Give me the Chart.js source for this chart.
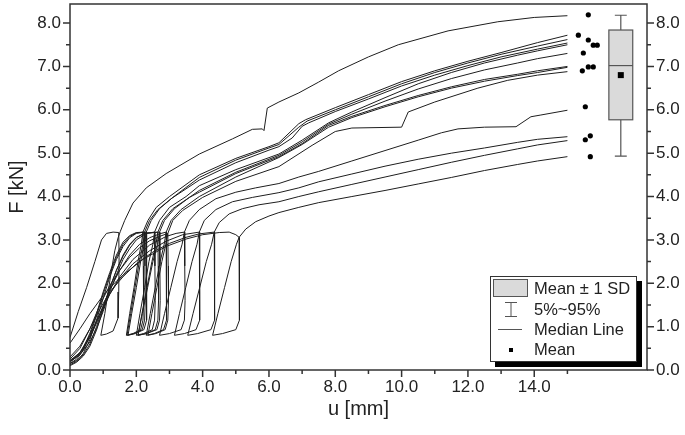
<!DOCTYPE html>
<html>
<head>
<meta charset="utf-8">
<script src="https://cdn.jsdelivr.net/npm/chart.js@4.4.1/dist/chart.umd.min.js"></script>
<style>
  html, body { margin: 0; padding: 0; background: #fff; }
  #chart { display: block; }
</style>
</head>
<body>
<canvas id="chart" width="685" height="435"></canvas>
<script>
// tick positions
const xTicks = [0, 2, 4, 6, 8, 10, 12, 14];
const xMinorTicks = [1, 3, 5, 7, 9, 11, 13, 15];
const yTicks = [0, 1, 2, 3, 4, 5, 6, 7, 8];
const yMinorTicks = [0.5, 1.5, 2.5, 3.5, 4.5, 5.5, 6.5, 7.5];

// load-displacement curves [u mm, F kN]
const spec01 = [[0,0.75],[0.25,1.35],[0.5,1.9],[0.75,2.5],[0.95,3.0],[1.1,3.15],[1.3,3.18],[1.47,3.17],
  [1.48,2.6],[1.47,1.8],[1.45,1.2],[1.3,0.9],[1.1,0.83],[0.93,0.8],
  [1.05,1.3],[1.15,1.8],[1.25,2.3],[1.35,2.75],[1.45,3.05],[1.52,3.2],
  [1.65,3.45],[1.9,3.85],[2.3,4.2],[2.9,4.53],[3.9,4.98],[4.9,5.33],[5.5,5.55],[5.8,5.56],[5.85,5.52],[5.95,6.04],
  [6.3,6.18],[6.9,6.39],[7.5,6.64],[8.1,6.9],[9.0,7.22],[9.9,7.5],[11.4,7.82],[12.9,8.03],[14.0,8.13],[15.0,8.17]];
const spec02 = [[0,0.12],[0.2,0.2],[0.4,0.38],[0.6,0.7],[0.8,1.15],[1.0,1.65],[1.2,2.15],[1.4,2.55],[1.6,2.85],[1.8,3.05],[2.0,3.15],[2.2,3.18],
  [2.21,2.4],[2.22,1.6],[2.2,1.15],[2.13,0.93],[1.9,0.84],[1.7,0.8],[1.8,1.3],[1.93,1.9],[2.05,2.5],[2.15,2.9],[2.2,3.18],
  [2.35,3.45],[2.6,3.75],[3.0,4.0],[3.9,4.5],[5.0,4.88],[6.0,5.15],[6.3,5.24],[6.9,5.68],[7.1,5.77],[8.0,6.05],[9.0,6.35],
  [10.0,6.65],[11.0,6.9],[12.0,7.12],[13.0,7.32],[14.1,7.55],[15.0,7.72]];
const spec03 = [[0,0.15],[0.2,0.25],[0.4,0.45],[0.6,0.8],[0.8,1.25],[1.0,1.75],[1.2,2.2],[1.4,2.6],[1.6,2.9],[1.8,3.08],[2.0,3.16],[2.3,3.18],
  [2.31,2.4],[2.32,1.6],[2.3,1.15],[2.23,0.93],[1.97,0.84],[1.75,0.8],[1.86,1.3],[2.0,1.9],[2.13,2.5],[2.24,2.9],[2.3,3.18],
  [2.45,3.45],[2.7,3.72],[3.1,3.98],[3.9,4.44],[5.0,4.84],[6.0,5.12],[6.3,5.2],[6.9,5.6],[7.15,5.74],[8.0,6.0],[9.0,6.3],
  [10.0,6.6],[11.0,6.86],[12.0,7.08],[13.0,7.28],[14.1,7.47],[15.0,7.62]];
const spec04 = [[0,0.18],[0.2,0.3],[0.4,0.5],[0.6,0.85],[0.8,1.3],[1.0,1.8],[1.2,2.25],[1.4,2.65],[1.6,2.95],[1.8,3.1],[2.0,3.17],[2.25,3.18],
  [2.26,2.4],[2.27,1.6],[2.25,1.15],[2.18,0.93],[1.93,0.84],[1.72,0.8],[1.83,1.3],[1.96,1.9],[2.09,2.5],[2.2,2.9],[2.25,3.18],
  [2.4,3.45],[2.65,3.7],[3.05,3.95],[3.9,4.38],[5.0,4.78],[6.0,5.07],[6.3,5.15],[6.7,5.35],[7.0,5.62],[7.2,5.7],[8.0,5.96],
  [9.0,6.25],[10.0,6.55],[11.0,6.8],[12.0,7.02],[13.0,7.22],[14.1,7.4],[15.0,7.54]];
const spec05 = [[0,0.15],[0.2,0.22],[0.4,0.35],[0.6,0.6],[0.8,1.0],[1.0,1.45],[1.2,1.9],[1.4,2.3],[1.6,2.62],[1.8,2.88],[2.0,3.05],[2.2,3.14],[2.55,3.18],
  [2.56,2.4],[2.57,1.6],[2.55,1.15],[2.48,0.93],[2.22,0.84],[2.0,0.8],[2.11,1.3],[2.25,1.9],[2.38,2.5],[2.5,2.9],[2.55,3.18],
  [2.7,3.45],[3.0,3.75],[3.5,4.0],[3.9,4.25],[5.0,4.62],[6.3,4.98],[7.0,5.3],[7.8,5.7],[8.5,5.95],[9.5,6.28],
  [10.5,6.6],[11.5,6.86],[12.5,7.08],[13.5,7.26],[14.1,7.36],[15.0,7.5]];
const spec06 = [[0,0.2],[0.2,0.3],[0.4,0.45],[0.6,0.65],[0.8,0.95],[1.0,1.35],[1.2,1.8],[1.4,2.2],[1.6,2.55],[1.8,2.8],[2.0,3.0],[2.3,3.15],[2.7,3.18],
  [2.71,2.4],[2.72,1.6],[2.7,1.15],[2.62,0.93],[2.31,0.84],[2.05,0.8],[2.18,1.3],[2.34,1.9],[2.5,2.5],[2.64,2.9],[2.7,3.18],
  [2.85,3.45],[3.15,3.72],[3.6,3.98],[3.9,4.14],[5.0,4.56],[6.3,4.95],[7.0,5.26],[7.8,5.67],[8.5,5.9],[9.5,6.2],
  [10.5,6.48],[11.5,6.72],[12.5,6.92],[13.5,7.08],[14.1,7.18],[15.0,7.3]];
const spec07 = [[0,0.1],[0.2,0.18],[0.4,0.32],[0.6,0.55],[0.8,0.92],[1.0,1.4],[1.2,1.88],[1.4,2.3],[1.6,2.65],[1.8,2.9],[2.0,3.06],[2.3,3.16],[2.65,3.18],
  [2.66,2.4],[2.67,1.6],[2.65,1.15],[2.57,0.93],[2.29,0.84],[2.05,0.8],[2.17,1.3],[2.32,1.9],[2.47,2.5],[2.59,2.9],[2.65,3.18],
  [2.8,3.45],[3.1,3.72],[3.6,3.98],[3.9,4.1],[5.0,4.53],[6.3,4.92],[7.0,5.22],[7.8,5.64],[8.5,5.85],[9.5,6.1],
  [10.5,6.33],[11.5,6.53],[12.5,6.7],[13.5,6.82],[14.1,6.9],[15.0,7.0]];
const spec08 = [[0,0.22],[0.3,0.4],[0.6,0.75],[0.9,1.3],[1.2,1.85],[1.5,2.3],[1.8,2.65],[2.1,2.9],[2.4,3.05],[2.7,3.14],[2.9,3.18],
  [2.91,2.4],[2.92,1.6],[2.9,1.15],[2.82,0.93],[2.54,0.84],[2.3,0.8],[2.42,1.3],[2.57,1.9],[2.72,2.5],[2.84,2.9],[2.9,3.18],
  [3.05,3.45],[3.35,3.7],[3.9,4.0],[5.0,4.45],[6.3,4.9],[7.0,5.2],[7.8,5.6],[8.5,5.82],[9.5,6.07],
  [10.5,6.3],[11.5,6.5],[12.5,6.66],[13.5,6.79],[14.1,6.86],[15.0,6.98]];
const spec09 = [[0,0.25],[0.3,0.5],[0.6,0.95],[0.9,1.5],[1.2,1.95],[1.5,2.3],[1.8,2.6],[2.1,2.82],[2.4,2.98],[2.7,3.08],[2.95,3.15],
  [2.96,2.4],[2.97,1.6],[2.95,1.15],[2.87,0.93],[2.59,0.84],[2.35,0.8],[2.47,1.3],[2.62,1.9],[2.77,2.5],[2.89,2.9],[2.95,3.15],
  [3.1,3.45],[3.4,3.68],[4.0,3.98],[5.0,4.35],[6.3,4.69],[7.3,5.18],[8.0,5.5],[8.5,5.58],[10.0,5.6],[10.2,5.95],
  [11.0,6.18],[12.3,6.5],[13.2,6.68],[14.1,6.8],[15.0,6.88]];
const spec10 = [[0,0.2],[0.3,0.35],[0.6,0.75],[0.9,1.25],[1.2,1.75],[1.5,2.15],[1.9,2.55],[2.4,2.88],[2.9,3.08],[3.2,3.15],[3.45,3.18],
  [3.46,2.4],[3.47,1.6],[3.45,1.15],[3.35,0.93],[3.0,0.84],[2.7,0.8],[2.85,1.3],[3.04,1.9],[3.23,2.5],[3.38,2.9],[3.45,3.18],
  [3.6,3.45],[3.9,3.7],[4.4,3.95],[5.0,4.1],[5.6,4.2],[6.3,4.3],[6.9,4.45],[7.5,4.58],[8.5,4.82],[9.5,5.06],
  [10.5,5.3],[11.2,5.47],[11.7,5.56],[12.5,5.6],[13.45,5.61],[13.9,5.84],[14.2,5.88],[15.0,5.99]];
const spec11 = [[0,0.2],[0.3,0.4],[0.6,0.8],[0.9,1.3],[1.2,1.75],[1.5,2.1],[1.9,2.45],[2.4,2.75],[2.9,2.97],[3.4,3.12],[3.9,3.18],
  [3.91,2.4],[3.92,1.6],[3.9,1.15],[3.8,0.93],[3.45,0.84],[3.15,0.8],[3.3,1.3],[3.49,1.9],[3.68,2.5],[3.83,2.9],[3.9,3.18],
  [4.05,3.45],[4.4,3.7],[4.9,3.88],[5.5,3.98],[6.3,4.09],[6.9,4.2],[7.5,4.34],[8.5,4.52],[9.5,4.7],
  [10.5,4.86],[11.5,5.0],[12.5,5.12],[13.5,5.25],[14.1,5.32],[15.0,5.38]];
const spec12 = [[0,0.3],[0.3,0.55],[0.6,0.95],[0.9,1.4],[1.2,1.8],[1.6,2.15],[2.0,2.45],[2.5,2.72],[3.0,2.92],[3.5,3.06],[3.9,3.14],[4.35,3.18],
  [4.36,2.4],[4.37,1.6],[4.35,1.15],[4.25,0.93],[3.85,0.84],[3.55,0.8],[3.71,1.3],[3.91,1.9],[4.11,2.5],[4.27,2.9],[4.35,3.18],
  [4.5,3.4],[4.8,3.6],[5.2,3.72],[5.7,3.81],[6.3,3.88],[6.9,4.0],[7.5,4.11],[8.5,4.28],[9.5,4.45],
  [10.5,4.62],[11.5,4.79],[12.5,4.95],[13.5,5.1],[14.1,5.19],[15.0,5.29]];
const spec13 = [[0,0.62],[0.3,0.95],[0.6,1.3],[1.0,1.72],[1.4,2.05],[1.7,2.25],[2.2,2.55],[2.9,2.85],[3.5,3.02],[4.0,3.12],[4.5,3.17],[4.8,3.18],[5.0,3.12],[5.1,3.06],
  [5.11,2.4],[5.12,1.6],[5.1,1.15],[5.0,0.93],[4.6,0.84],[4.3,0.8],[4.46,1.3],[4.66,1.9],[4.86,2.5],[5.02,2.9],[5.1,3.06],
  [5.3,3.25],[5.6,3.42],[6.0,3.55],[6.3,3.63],[6.9,3.75],[7.5,3.86],[8.5,4.0],[9.5,4.14],[10.5,4.29],[11.5,4.44],
  [12.5,4.6],[13.5,4.74],[14.1,4.82],[15.0,4.92]];

// final loads (scatter beside the curves)
const endU = [15.63, 15.33, 15.63, 15.78, 15.9, 15.48, 15.45, 15.63, 15.78, 15.54, 15.54, 15.69, 15.69];
const endF = [8.19, 7.72, 7.61, 7.49, 7.49, 7.31, 6.9, 6.99, 6.99, 6.07, 5.31, 5.4, 4.92];

// box plot statistics
const boxSdLow = 5.77;
const boxSdHigh = 7.84;
const boxMedian = 7.02;
const boxMean = 6.8;
const whiskerLow = 4.93;
const whiskerHigh = 8.18;

const curves = [spec01, spec02, spec03, spec04, spec05, spec06, spec07, spec08, spec09, spec10, spec11, spec12, spec13];

// layout constants
const FONT = '"Liberation Sans", Arial, sans-serif';
const INK = '#222';
const BOX_X0 = 16.25, BOX_X1 = 16.97, BOX_XC = 16.61, CAP_HALF = 0.18;

const frameAndBox = {
    id: 'frameAndBox',
    afterDraw(chart) {
        const ctx = chart.ctx;
        const a = chart.chartArea;
        const xs = chart.scales.x;
        const ys = chart.scales.y;
        ctx.save();

        // box plot
        const bx0 = xs.getPixelForValue(BOX_X0), bx1 = xs.getPixelForValue(BOX_X1), bxc = xs.getPixelForValue(BOX_XC);
        const ch = xs.getPixelForValue(BOX_XC + CAP_HALF) - bxc;
        ctx.strokeStyle = '#555';
        ctx.lineWidth = 1.2;
        ctx.beginPath();
        ctx.moveTo(bxc, ys.getPixelForValue(boxSdHigh)); ctx.lineTo(bxc, ys.getPixelForValue(whiskerHigh));
        ctx.moveTo(bxc - ch, ys.getPixelForValue(whiskerHigh)); ctx.lineTo(bxc + ch, ys.getPixelForValue(whiskerHigh));
        ctx.moveTo(bxc, ys.getPixelForValue(boxSdLow)); ctx.lineTo(bxc, ys.getPixelForValue(whiskerLow));
        ctx.moveTo(bxc - ch, ys.getPixelForValue(whiskerLow)); ctx.lineTo(bxc + ch, ys.getPixelForValue(whiskerLow));
        ctx.stroke();
        const top = ys.getPixelForValue(boxSdHigh), bot = ys.getPixelForValue(boxSdLow);
        ctx.fillStyle = '#dadada';
        ctx.fillRect(bx0, top, bx1 - bx0, bot - top);
        ctx.strokeRect(bx0, top, bx1 - bx0, bot - top);
        ctx.beginPath();
        ctx.moveTo(bx0, ys.getPixelForValue(boxMedian)); ctx.lineTo(bx1, ys.getPixelForValue(boxMedian));
        ctx.stroke();
        ctx.fillStyle = '#000';
        ctx.fillRect(bxc - 3, ys.getPixelForValue(boxMean) - 3, 6, 6);

        // frame
        ctx.strokeStyle = '#333';
        ctx.lineWidth = 1.5;
        ctx.strokeRect(a.left, a.top, a.right - a.left, a.bottom - a.top);

        // ticks
        ctx.beginPath();
        const tick = (x0, y0, x1, y1) => { ctx.moveTo(x0, y0); ctx.lineTo(x1, y1); };
        xTicks.forEach(v => { const p = xs.getPixelForValue(v); tick(p, a.bottom, p, a.bottom + 7); });
        xMinorTicks.forEach(v => { const p = xs.getPixelForValue(v); tick(p, a.bottom, p, a.bottom + 4); });
        yTicks.forEach(v => {
            const p = ys.getPixelForValue(v);
            tick(a.left, p, a.left - 7, p);
            tick(a.right, p, a.right + 7, p);
        });
        yMinorTicks.forEach(v => {
            const p = ys.getPixelForValue(v);
            tick(a.left, p, a.left - 4, p);
            tick(a.right, p, a.right + 4, p);
        });
        ctx.stroke();

        // legend box
        ctx.fillStyle = '#000';
        ctx.fillRect(495, 281, 147, 86);
        ctx.fillStyle = '#fff';
        ctx.fillRect(490, 276, 147, 86);
        ctx.strokeStyle = '#333';
        ctx.lineWidth = 1;
        ctx.strokeRect(490.5, 276.5, 146, 85);

        ctx.fillStyle = '#dadada';
        ctx.fillRect(493, 279, 35, 18);
        ctx.strokeStyle = '#555';
        ctx.strokeRect(493.5, 279.5, 34, 17);
        ctx.beginPath();
        ctx.moveTo(511, 302); ctx.lineTo(511, 317);
        ctx.moveTo(505, 302.5); ctx.lineTo(517, 302.5);
        ctx.moveTo(505, 316.5); ctx.lineTo(517, 316.5);
        ctx.moveTo(498, 329.5); ctx.lineTo(522, 329.5);
        ctx.stroke();
        ctx.fillStyle = '#000';
        ctx.fillRect(509, 348, 4, 4);

        ctx.fillStyle = INK;
        ctx.font = '16.5px ' + FONT;
        ctx.textAlign = 'left';
        ctx.textBaseline = 'middle';
        ctx.fillText('Mean \u00b1 1 SD', 534, 289);
        ctx.fillText('5%~95%', 534, 310);
        ctx.fillText('Median Line', 534, 330);
        ctx.fillText('Mean', 534, 350);
        ctx.restore();
    }
};

function fixTicks(values) {
    return function (scale) {
        scale.ticks = values.map(v => ({ value: v }));
    };
}

// keep Chart.js from reserving room for overhanging tick labels
function fixWidth(w) {
    return function (s) { s.width = w; s.paddingTop = 0; s.paddingBottom = 0; };
}

function drawChart() {
    const canvas = document.getElementById('chart');
    const datasets = curves.map(c => ({
        data: c.map(p => ({ x: p[0], y: p[1] })),
        showLine: true,
        borderColor: '#1e1e1e',
        borderWidth: 1,
        pointRadius: 0,
        tension: 0,
        yAxisID: 'y'
    }));
    datasets.push({
        data: endU.map((u, i) => ({ x: u, y: endF[i] })),
        showLine: false,
        pointRadius: 2.6,
        pointBackgroundColor: '#000',
        pointBorderWidth: 0,
        yAxisID: 'y'
    });

    new Chart(canvas, {
        type: 'scatter',
        data: { datasets: datasets },
        options: {
            responsive: false,
            animation: false,
            devicePixelRatio: 1,
            layout: { padding: { top: 3, left: 0, right: 0, bottom: 0 } },
            plugins: { legend: { display: false }, tooltip: { enabled: false } },
            scales: {
                x: {
                    type: 'linear', min: 0, max: 17.4,
                    afterBuildTicks: fixTicks(xTicks),
                    afterFit: s => { s.height = 65; s.paddingLeft = 0; s.paddingRight = 0; },
                    grid: { display: false, drawTicks: false },
                    border: { display: false },
                    ticks: { padding: 7, color: INK, font: { size: 17, family: FONT }, callback: v => v.toFixed(1), maxRotation: 0 },
                    title: { display: true, text: 'u [mm]', color: INK, font: { size: 20, family: FONT }, padding: { top: 14, bottom: 14 } }
                },
                y: {
                    type: 'linear', position: 'left', min: 0, max: 8.44,
                    afterBuildTicks: fixTicks(yTicks),
                    afterFit: fixWidth(70),
                    grid: { display: false, drawTicks: false },
                    border: { display: false },
                    ticks: { padding: 9, color: INK, font: { size: 17, family: FONT }, callback: v => v.toFixed(1) },
                    title: { display: true, text: 'F [kN]', color: INK, font: { size: 20, family: FONT }, padding: { top: 5, bottom: 5 } }
                },
                y2: {
                    type: 'linear', position: 'right', min: 0, max: 8.44,
                    afterBuildTicks: fixTicks(yTicks),
                    afterFit: fixWidth(38),
                    grid: { display: false, drawTicks: false },
                    border: { display: false },
                    ticks: { padding: 9, color: INK, font: { size: 17, family: FONT }, callback: v => v.toFixed(1) }
                }
            }
        },
        plugins: [frameAndBox]
    });
}

window.addEventListener('load', drawChart);
</script>
</body>
</html>
